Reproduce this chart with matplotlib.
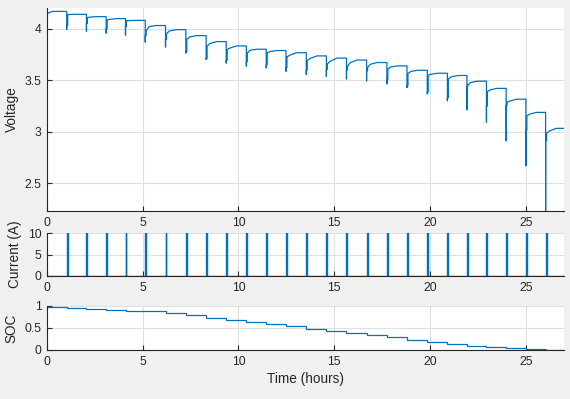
import numpy as np
import matplotlib
matplotlib.use("Agg")
import matplotlib.pyplot as plt
from matplotlib.ticker import FuncFormatter

# pulse discharge test, one pulse roughly every hour
pulse_t = [1.03, 2.06, 3.09, 4.10, 5.13, 6.19, 7.25, 8.31, 9.36, 10.41, 11.45, 12.48, 13.54,
           14.59, 15.64, 16.69, 17.75, 18.80, 19.86, 20.91, 21.93, 22.95, 23.98, 25.01, 26.04]
t_end = 27.0

# voltage readings per pulse
v_start = [4.03, 4.15, 4.167]
t_start = [0.0, 0.03, 0.3]
v_pre = [4.167, 4.139, 4.116, 4.097, 4.080, 4.030, 3.990, 3.932, 3.874, 3.832, 3.800, 3.787, 3.766,
         3.735, 3.714, 3.695, 3.671, 3.638, 3.596, 3.567, 3.545, 3.490, 3.420, 3.315, 3.187]
v_spike = [3.993, 3.977, 3.957, 3.938, 3.870, 3.822, 3.764, 3.703, 3.667, 3.638, 3.620, 3.587, 3.557,
           3.538, 3.512, 3.493, 3.464, 3.429, 3.367, 3.300, 3.212, 3.092, 2.912, 2.670, 2.20]
v_band = [4.03, 4.05, 4.00, 4.02, 3.935, 3.896, 3.774, 3.710, 3.693, 3.677, 3.650, 3.622, 3.596,
          3.603, 3.600, 3.590, 3.506, 3.444, 3.383, 3.328, 3.440, 3.250, 3.258, 3.016, 2.912]
v_after = [4.136, 4.106, 4.083, 4.077, 3.977, 3.951, 3.896, 3.829, 3.797, 3.764, 3.764, 3.725, 3.690,
           3.657, 3.635, 3.622, 3.606, 3.564, 3.548, 3.509, 3.454, 3.389, 3.287, 3.154, 2.984]
v_knee = [4.138, 4.112, 4.090, 4.078, 4.019, 3.977, 3.919, 3.855, 3.812, 3.790, 3.778, 3.742, 3.710,
          3.683, 3.670, 3.654, 3.628, 3.584, 3.558, 3.532, 3.477, 3.406, 3.297, 3.170, 3.006]
v_final = 3.032

i_pulse = 10.0

soc_level = [0.977, 0.955, 0.940, 0.917, 0.894, 0.879, 0.841, 0.795, 0.735, 0.689, 0.636, 0.591, 0.538,
             0.485, 0.432, 0.386, 0.341, 0.295, 0.235, 0.182, 0.136, 0.091, 0.061, 0.038, 0.015, 0.0]

blue = "#0072BD"
dark = "#262626"
plt.rcParams["font.family"] = ["Liberation Sans", "DejaVu Sans"]

# build voltage trace
tv = list(t_start)
vv = list(v_start)
for k, t in enumerate(pulse_t):
    nxt_t = pulse_t[k + 1] if k + 1 < len(pulse_t) else t_end
    nxt_v = v_pre[k + 1] if k + 1 < len(pulse_t) else v_final
    tv += [t, t, t, t + 0.05, t + 0.05, t + 0.2, t + 0.55, nxt_t]
    vv += [v_pre[k], v_spike[k], v_band[k], v_band[k], v_after[k], v_knee[k], nxt_v, nxt_v]

# current trace
ti = [0.0]
ii = [0.0]
for t in pulse_t:
    ti += [t, t, t + 0.05, t + 0.05]
    ii += [0.0, i_pulse, i_pulse, 0.0]
ti.append(t_end)
ii.append(0.0)

edges = [0.0] + pulse_t + [t_end]

fig = plt.figure(figsize=(5.7, 3.99), dpi=100, facecolor="#F0F0F0")
W, H = 570.0, 399.0
def box(l, t, r, b):
    return [l / W, 1 - b / H, (r - l) / W, (b - t) / H]

ax1 = fig.add_axes(box(47, 8, 564, 211))
ax2 = fig.add_axes(box(47, 233, 564, 276))
ax3 = fig.add_axes(box(47, 306, 564, 350))

ax1.plot(tv, vv, color=blue, lw=0.9)
ax2.plot(ti, ii, color=blue, lw=1.0)
ax3.stairs(soc_level, edges, color=blue, lw=0.9, baseline=None)

ax1.set_ylim(2.23, 4.2)
ax1.set_yticks([2.5, 3, 3.5, 4])
ax2.set_ylim(0, 10)
ax2.set_yticks([0, 5, 10])
ax3.set_ylim(0, 1)
ax3.set_yticks([0, 0.5, 1])

fmt = FuncFormatter(lambda v, p: "%g" % v)
for ax, lab in [(ax1, "Voltage"), (ax2, "Current (A)"), (ax3, "SOC")]:
    ax.set_xlim(0, t_end)
    ax.set_xticks([0, 5, 10, 15, 20, 25])
    ax.xaxis.set_major_formatter(fmt)
    ax.yaxis.set_major_formatter(fmt)
    ax.set_facecolor("white")
    ax.grid(True, color="#DFDFDF", lw=0.8)
    ax.set_axisbelow(True)
    for s in ["top", "right"]:
        ax.spines[s].set_visible(False)
    for s in ["left", "bottom"]:
        ax.spines[s].set_color(dark)
        ax.spines[s].set_linewidth(0.8)
    ax.tick_params(direction="in", length=3.5, width=0.8, color=dark,
                   labelcolor=dark, labelsize=8.7, pad=4)
    ax.set_ylabel(lab, fontsize=9.8, color=dark, labelpad=4)

ax3.set_xlabel("Time (hours)", fontsize=9.8, color=dark, labelpad=3)

fig.savefig("out.png", dpi=100, facecolor=fig.get_facecolor())
